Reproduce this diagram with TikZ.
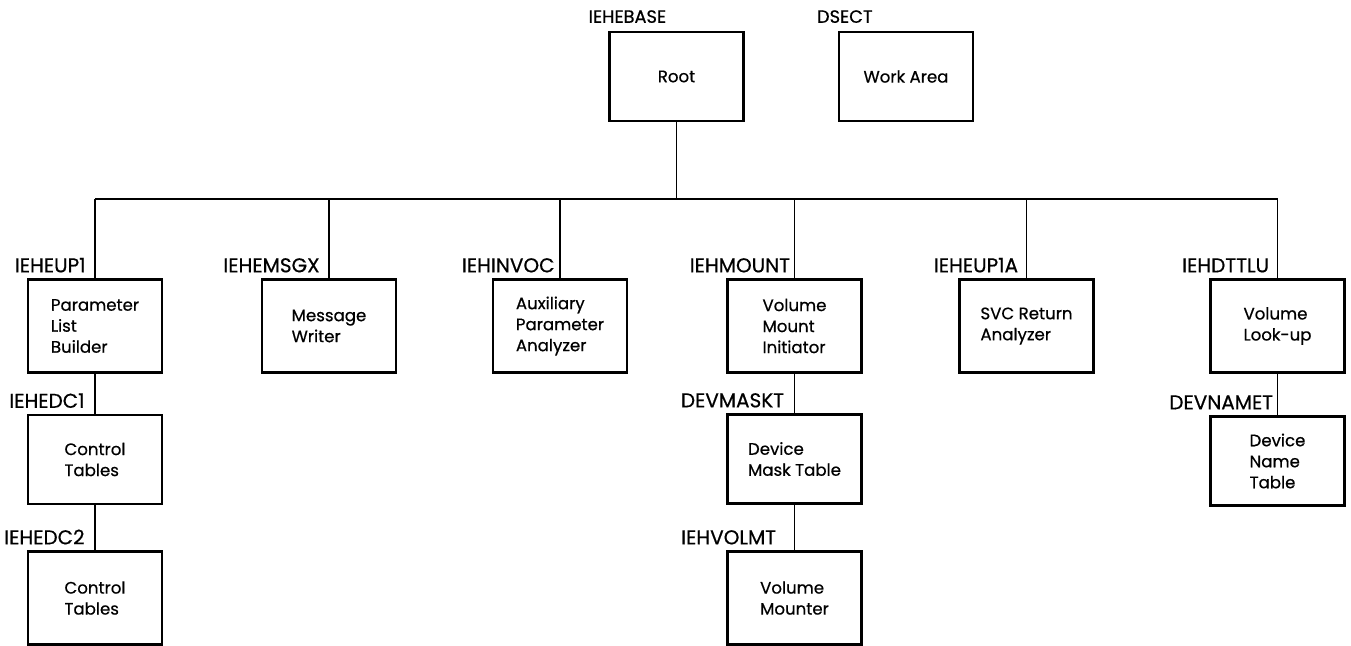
\documentclass[tikz,border=0pt]{standalone}
\usepackage{fontspec}
\setmainfont{Poppins}[FakeBold=0.6]
\tikzset{
	modbox/.style={draw, line width=1.2pt, minimum width=67pt, minimum height=46.5pt, inner sep=0pt, align=left, font=\fontsize{8.3}{10.5}\selectfont},
	modtag/.style={anchor=base east, inner sep=0pt, font=\fontsize{10}{11}\selectfont},
	toptag/.style={modtag, font=\fontsize{8.9}{10}\selectfont},
	link/.style={line width=0.9pt}
}
\begin{document}
\begin{tikzpicture}[x=0.5pt, y=-0.5pt]
		\useasboundingbox (0, 0) rectangle (1351, 645);
		\node[modbox, minimum height=44.5pt] (root) at (676.5, 76.5) {Root};
		\node[modbox, minimum height=44.5pt] (work) at (906, 76.5) {Work Area};
		\node[modbox] (up1) at (95, 326) {Parameter\\List\\Builder};
		\node[modbox] (msgx) at (329, 326) {Message\\Writer};
		\node[modbox] (invoc) at (560, 326) {Auxiliary\\Parameter\\Analyzer};
		\node[modbox] (mount) at (794.5, 326) {Volume\\Mount\\Initiator};
		\node[modbox] (up1a) at (1026.5, 326) {SVC Return\\Analyzer};
		\node[modbox] (dttlu) at (1277.5, 326) {Volume\\Look-up};
		\node[modbox, minimum height=44.5pt] (dc1) at (95, 459.5) {Control\\Tables};
		\node[modbox] (dc2) at (95, 598) {Control\\Tables};
		\node[modbox, minimum height=44.5pt] (mask) at (794.5, 459) {Device\\Mask Table};
		\node[modbox] (volmt) at (794.5, 598) {Volume\\Mounter};
		\node[modbox, minimum height=44.5pt] (namet) at (1277.5, 461) {Device\\Name\\Table};
		\node[toptag] at ([xshift=-5pt, yshift=4pt]root.north) {IEHEBASE};
		\node[toptag] at ([xshift=-16.5pt, yshift=4pt]work.north) {DSECT};
		\node[modtag] at ([xshift=-4.5pt, yshift=3pt]up1.north) {IEHEUP1};
		\node[modtag] at ([xshift=-4.5pt, yshift=3pt]msgx.north) {IEHEMSGX};
		\node[modtag] at ([xshift=-2.5pt, yshift=3pt]invoc.north) {IEHINVOC};
		\node[modtag] at ([xshift=-2pt, yshift=3pt]mount.north) {IEHMOUNT};
		\node[modtag] at ([xshift=-4pt, yshift=3pt]up1a.north) {IEHEUP1A};
		\node[modtag] at ([xshift=-4pt, yshift=3pt]dttlu.north) {IEHDTTLU};
		\node[modtag] at ([xshift=-5pt, yshift=3pt]dc1.north) {IEHEDC1};
		\node[modtag] at ([xshift=-5pt, yshift=3pt]dc2.north) {IEHEDC2};
		\node[modtag] at ([xshift=-5pt, yshift=3pt]mask.north) {DEVMASKT};
		\node[modtag] at ([xshift=-9pt, yshift=3pt]volmt.north) {IEHVOLMT};
		\node[modtag] at ([xshift=-2pt, yshift=3pt]namet.north) {DEVNAMET};
		\coordinate (bus) at (0, 199);
		\draw[link] (root.south) -- (root.south |- bus);
		\draw[link] (up1.north |- bus) -- (dttlu.north |- bus);
		\foreach \m in {up1, msgx, invoc, mount, up1a, dttlu}
			\draw[link] (\m.north) -- (\m.north |- bus);
		\draw[link] (up1.south) -- (dc1.north);
		\draw[link] (dc1.south) -- (dc2.north);
		\draw[link] (mount.south) -- (mask.north);
		\draw[link] (mask.south) -- (volmt.north);
		\draw[link] (dttlu.south) -- (namet.north);
	\end{tikzpicture}
\end{document}
